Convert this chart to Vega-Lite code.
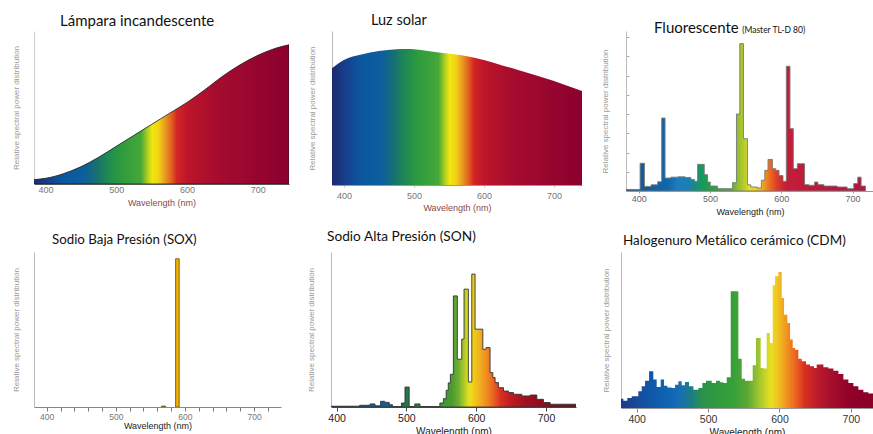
{
"$schema": "https://vega.github.io/schema/vega-lite/v6.json",
"background": "white",
"padding": {"left": 12, "top": 12, "right": 0, "bottom": 0},
"autosize": {"type": "pad"},
"config": {
  "view": {"stroke": null},
  "axis": {"grid": false, "labelFont": "Liberation Sans", "titleFont": "Liberation Sans", "titleFontWeight": "normal"},
  "title": {"font": "Lato", "fontWeight": "normal", "color": "#111", "anchor": "start", "frame": "group"}
},
"datasets": {
  "incandescent": [
    {"w": 381, "v": 0.027}, {"w": 400, "v": 0.036}, {"w": 425, "v": 0.065}, {"w": 450, "v": 0.11},
    {"w": 475, "v": 0.17}, {"w": 500, "v": 0.24}, {"w": 525, "v": 0.31}, {"w": 550, "v": 0.38},
    {"w": 575, "v": 0.45}, {"w": 600, "v": 0.52}, {"w": 625, "v": 0.6}, {"w": 650, "v": 0.686},
    {"w": 675, "v": 0.76}, {"w": 700, "v": 0.82}, {"w": 725, "v": 0.865}, {"w": 744, "v": 0.887}
  ],
  "solar": [
    {"w": 383, "v": 0.77}, {"w": 400, "v": 0.824}, {"w": 425, "v": 0.86}, {"w": 450, "v": 0.883},
    {"w": 475, "v": 0.895}, {"w": 490, "v": 0.897}, {"w": 500, "v": 0.895}, {"w": 520, "v": 0.883},
    {"w": 545, "v": 0.868}, {"w": 570, "v": 0.853}, {"w": 600, "v": 0.824}, {"w": 625, "v": 0.79},
    {"w": 650, "v": 0.757}, {"w": 700, "v": 0.686}, {"w": 740, "v": 0.62}
  ],
  "fluorescent": [
    {"w": 382, "v": 0.01}, {"w": 401.8, "v": 0.18}, {"w": 407.9, "v": 0.03}, {"w": 417.2, "v": 0.04},
    {"w": 426.5, "v": 0.06}, {"w": 432.1, "v": 0.474}, {"w": 436.8, "v": 0.084}, {"w": 445, "v": 0.09},
    {"w": 455, "v": 0.092}, {"w": 465, "v": 0.088}, {"w": 473, "v": 0.075}, {"w": 478, "v": 0.063},
    {"w": 482.5, "v": 0.173}, {"w": 491.8, "v": 0.106}, {"w": 496.4, "v": 0.058}, {"w": 500.2, "v": 0.032},
    {"w": 510.4, "v": 0.015}, {"w": 531.4, "v": 0.054}, {"w": 537, "v": 0.5}, {"w": 541.7, "v": 0.957},
    {"w": 546.8, "v": 0.34}, {"w": 552.4, "v": 0.04}, {"w": 557.1, "v": 0.026}, {"w": 566.4, "v": 0.02},
    {"w": 572, "v": 0.07}, {"w": 576.7, "v": 0.134}, {"w": 581.3, "v": 0.205}, {"w": 587.4, "v": 0.145},
    {"w": 592, "v": 0.134}, {"w": 596.7, "v": 0.1}, {"w": 602.3, "v": 0.063}, {"w": 607, "v": 0.81},
    {"w": 612.1, "v": 0.405}, {"w": 616.8, "v": 0.145}, {"w": 622.4, "v": 0.177}, {"w": 632.6, "v": 0.041},
    {"w": 638.7, "v": 0.037}, {"w": 646.6, "v": 0.058}, {"w": 651.3, "v": 0.041}, {"w": 659.7, "v": 0.032},
    {"w": 678.3, "v": 0.026}, {"w": 692.3, "v": 0.015}, {"w": 701.6, "v": 0.048}, {"w": 707.2, "v": 0.09},
    {"w": 711.9, "v": 0.032}, {"w": 718, "v": 0.032}
  ],
  "sox": [
    {"w0": 566, "w1": 572, "v": 0.006},
    {"w0": 586.5, "w1": 591.7, "v": 0.949}
  ],
  "son": [
    {"w": 392, "v": 0.005}, {"w": 433, "v": 0.011}, {"w": 448, "v": 0.02}, {"w": 455, "v": 0.008},
    {"w": 463, "v": 0.037}, {"w": 469, "v": 0.03}, {"w": 475.5, "v": 0.015}, {"w": 480, "v": 0.003},
    {"w": 493, "v": 0.026}, {"w": 498, "v": 0.13}, {"w": 504, "v": 0.003}, {"w": 512, "v": 0.02},
    {"w": 519.5, "v": 0.003}, {"w": 548, "v": 0.026}, {"w": 553, "v": 0.054}, {"w": 557, "v": 0.109},
    {"w": 560, "v": 0.157}, {"w": 563, "v": 0.213}, {"w": 567.3, "v": 0.724}, {"w": 573, "v": 0.311},
    {"w": 579.3, "v": 0.442}, {"w": 582.6, "v": 0.768}, {"w": 588.8, "v": 0.163}, {"w": 593.7, "v": 0.866},
    {"w": 598.4, "v": 0.507}, {"w": 609.5, "v": 0.376}, {"w": 614.2, "v": 0.387}, {"w": 619.9, "v": 0.224},
    {"w": 623.8, "v": 0.192}, {"w": 627.1, "v": 0.159}, {"w": 631.9, "v": 0.126}, {"w": 639.1, "v": 0.104},
    {"w": 646.3, "v": 0.094}, {"w": 653.4, "v": 0.083}, {"w": 665.4, "v": 0.072}, {"w": 677.3, "v": 0.078},
    {"w": 686.9, "v": 0.05}, {"w": 696.4, "v": 0.029}, {"w": 706, "v": 0.018}, {"w": 743, "v": 0.018}
  ],
  "cdm": [
    {"w": 378, "v": 0.06}, {"w": 381.3, "v": 0.047}, {"w": 386.9, "v": 0.065}, {"w": 393, "v": 0.075},
    {"w": 402.3, "v": 0.108}, {"w": 407, "v": 0.14}, {"w": 411.7, "v": 0.176}, {"w": 417.3, "v": 0.237},
    {"w": 423.3, "v": 0.183}, {"w": 428, "v": 0.135}, {"w": 433.6, "v": 0.183}, {"w": 438.3, "v": 0.144},
    {"w": 443, "v": 0.133}, {"w": 449, "v": 0.129}, {"w": 453.7, "v": 0.15}, {"w": 458.4, "v": 0.172},
    {"w": 463, "v": 0.146}, {"w": 467.7, "v": 0.168}, {"w": 473.3, "v": 0.14}, {"w": 479.4, "v": 0.118},
    {"w": 486.4, "v": 0.129}, {"w": 492, "v": 0.161}, {"w": 497.1, "v": 0.176}, {"w": 505.1, "v": 0.161},
    {"w": 511.1, "v": 0.176}, {"w": 516.7, "v": 0.166}, {"w": 521.4, "v": 0.161}, {"w": 526.1, "v": 0.198},
    {"w": 531.7, "v": 0.753}, {"w": 542.4, "v": 0.318}, {"w": 547.1, "v": 0.189}, {"w": 551.7, "v": 0.176},
    {"w": 562.5, "v": 0.275}, {"w": 567.2, "v": 0.452}, {"w": 573.7, "v": 0.258}, {"w": 577.4, "v": 0.254},
    {"w": 582.1, "v": 0.484}, {"w": 586.8, "v": 0.419}, {"w": 590.5, "v": 0.792}, {"w": 593.8, "v": 0.849},
    {"w": 598.4, "v": 0.877}, {"w": 603.1, "v": 0.71}, {"w": 606.4, "v": 0.602}, {"w": 611, "v": 0.548},
    {"w": 614.8, "v": 0.441}, {"w": 618.5, "v": 0.387}, {"w": 621.8, "v": 0.376}, {"w": 626.4, "v": 0.318},
    {"w": 631.1, "v": 0.301}, {"w": 637.2, "v": 0.28}, {"w": 642.8, "v": 0.269}, {"w": 648.4, "v": 0.258},
    {"w": 652.1, "v": 0.28}, {"w": 661.5, "v": 0.262}, {"w": 668.5, "v": 0.254}, {"w": 675.5, "v": 0.241},
    {"w": 682.5, "v": 0.219}, {"w": 689.5, "v": 0.183}, {"w": 696.5, "v": 0.161}, {"w": 703.5, "v": 0.14},
    {"w": 710.5, "v": 0.118}, {"w": 717.5, "v": 0.101}, {"w": 724.5, "v": 0.093}, {"w": 731.5, "v": 0.093}
  ],
  "note": [{"label": "(Master TL-D 80)"}]
},
"spacing": 14,
"align": "none",
"vconcat": [
  {
    "spacing": 19,
    "align": "none",
    "hconcat": [
      {
        "width": 255, "height": 153,
        "title": {"text": "Lámpara incandescente", "fontSize": 15, "dx": 26, "offset": 2},
        "data": {"name": "incandescent"},
        "mark": {"type": "area", "interpolate": "monotone", "clip": true, "stroke": "#1a1a1a", "strokeWidth": 0.8,
          "fill": {"gradient": "linear", "x1": 0, "x2": 1, "y1": 0, "y2": 0, "stops": [
            {"offset": 0, "color": "#1c2a6e"}, {"offset": 0.0523, "color": "#173d8a"}, {"offset": 0.1212, "color": "#0b57a0"},
            {"offset": 0.2039, "color": "#0d5f9c"}, {"offset": 0.2507, "color": "#17706f"}, {"offset": 0.2948, "color": "#1f8a52"},
            {"offset": 0.3416, "color": "#2c9a3e"}, {"offset": 0.4242, "color": "#45a838"}, {"offset": 0.4518, "color": "#b8d21e"},
            {"offset": 0.4683, "color": "#f0e60f"}, {"offset": 0.4931, "color": "#f0d214"}, {"offset": 0.5152, "color": "#eaa020"},
            {"offset": 0.5427, "color": "#e06020"}, {"offset": 0.5647, "color": "#d42424"}, {"offset": 0.6033, "color": "#bd162a"},
            {"offset": 0.7135, "color": "#a60c2e"}, {"offset": 1, "color": "#8b002e"}]}},
        "encoding": {
          "x": {"field": "w", "type": "quantitative", "scale": {"domain": [383.8, 744], "nice": false, "zero": false},
            "axis": {"values": [400, 500, 600, 700], "title": "Wavelength (nm)", "titleColor": "#8a4a48", "titleFontSize": 9, "titlePadding": 4,
              "labelFontSize": 9, "labelColor": "#777", "labelPadding": 1, "tickSize": 0, "domainColor": "#555"}},
          "y": {"field": "v", "type": "quantitative", "scale": {"domain": [0, 0.975], "nice": false},
            "axis": {"title": "Relative spectral power distribution", "labels": false, "ticks": false, "domainColor": "#ccc",
              "titleColor": "#999", "titleFontSize": 8, "titlePadding": 14}}
        }
      },
      {
        "width": 250, "height": 154,
        "title": {"text": "Luz solar", "fontSize": 14.5, "dx": 39, "offset": 3},
        "data": {"name": "solar"},
        "mark": {"type": "area", "interpolate": "monotone", "clip": true,
          "fill": {"gradient": "linear", "x1": 0, "x2": 1, "y1": 0, "y2": 0, "stops": [
            {"offset": 0, "color": "#1c2a6e"}, {"offset": 0.0476, "color": "#173d8a"}, {"offset": 0.1176, "color": "#0b57a0"},
            {"offset": 0.2017, "color": "#0d5f9c"}, {"offset": 0.2493, "color": "#17706f"}, {"offset": 0.2941, "color": "#1f8a52"},
            {"offset": 0.3417, "color": "#2c9a3e"}, {"offset": 0.4258, "color": "#45a838"}, {"offset": 0.4538, "color": "#b8d21e"},
            {"offset": 0.4706, "color": "#f0e60f"}, {"offset": 0.4958, "color": "#f0d214"}, {"offset": 0.5182, "color": "#eaa020"},
            {"offset": 0.5462, "color": "#e06020"}, {"offset": 0.5686, "color": "#d42424"}, {"offset": 0.6078, "color": "#bd162a"},
            {"offset": 0.7199, "color": "#a60c2e"}, {"offset": 1, "color": "#8b002e"}]}},
        "encoding": {
          "x": {"field": "w", "type": "quantitative", "scale": {"domain": [383, 740], "nice": false, "zero": false},
            "axis": {"values": [400, 500, 600, 700], "title": "Wavelength (nm)", "titleColor": "#8a4a48", "titleFontSize": 9, "titlePadding": 3,
              "labelFontSize": 9, "labelColor": "#777", "labelPadding": 4, "tickSize": 2, "tickColor": "#bbb", "domainColor": "#999"}},
          "y": {"field": "v", "type": "quantitative", "scale": {"domain": [0, 1.015], "nice": false},
            "axis": {"title": "Relative spectral power distribution", "labels": false, "ticks": false, "domainColor": "#bbb",
              "titleColor": "#999", "titleFontSize": 8, "titlePadding": 16}}
        }
      },
      {
        "width": 248, "height": 160,
        "title": {"text": "Fluorescente", "fontSize": 15, "dx": 28, "offset": -10},
        "encoding": {
          "x": {"type": "quantitative", "scale": {"domain": [382, 730], "nice": false, "zero": false},
            "axis": {"values": [400, 500, 600, 700], "title": "Wavelength (nm)", "titleColor": "#222", "titleFontSize": 9, "titlePadding": 4,
              "labelFontSize": 9, "labelColor": "#666", "labelPadding": 1, "tickSize": 2, "tickColor": "#999", "domainColor": "#999"}},
          "y": {"type": "quantitative", "scale": {"domain": [0, 1.039], "nice": false},
            "axis": {"title": "Relative spectral power distribution", "labels": false, "tickSize": -3, "tickColor": "#aaa",
              "values": [0.125, 0.25, 0.375, 0.5, 0.625, 0.75, 0.875, 1], "domainColor": "#bbb",
              "titleColor": "#999", "titleFontSize": 8, "titlePadding": 16}}
        },
        "layer": [
          {
            "data": {"name": "fluorescent"},
            "mark": {"type": "area", "interpolate": "step-after", "clip": true, "stroke": "#777", "strokeWidth": 0.9,
              "fill": {"gradient": "linear", "x1": 0, "x2": 1, "y1": 0, "y2": 0, "stops": [
                {"offset": 0, "color": "#1f3f78"}, {"offset": 0.0536, "color": "#0f5a9c"}, {"offset": 0.1726, "color": "#1166ab"},
                {"offset": 0.2173, "color": "#1f7cc0"}, {"offset": 0.2619, "color": "#1a80b0"}, {"offset": 0.2917, "color": "#15907a"},
                {"offset": 0.3214, "color": "#189a58"}, {"offset": 0.3661, "color": "#2ea042"}, {"offset": 0.4405, "color": "#58ae38"},
                {"offset": 0.4702, "color": "#98c030"}, {"offset": 0.494, "color": "#b8cc28"}, {"offset": 0.5149, "color": "#e6e020"},
                {"offset": 0.5446, "color": "#f2c81c"}, {"offset": 0.5744, "color": "#f0a020"}, {"offset": 0.5982, "color": "#ec7020"},
                {"offset": 0.625, "color": "#e04428"}, {"offset": 0.6488, "color": "#d02c30"}, {"offset": 0.6696, "color": "#c41e38"},
                {"offset": 0.7679, "color": "#bc1a3c"}, {"offset": 1, "color": "#b01640"}]}},
            "encoding": {"x": {"field": "w"}, "y": {"field": "v"}}
          },
          {
            "data": {"name": "note"},
            "mark": {"type": "text", "align": "left", "baseline": "alphabetic", "font": "Lato", "fontSize": 8.5, "color": "#111"},
            "encoding": {"x": {"datum": 545}, "y": {"datum": 1.028}, "text": {"field": "label"}}
          }
        ]
      }
    ]
  },
  {
    "spacing": 26,
    "align": "none",
    "hconcat": [
      {
        "width": 247, "height": 155,
        "title": {"text": "Sodio Baja Presión (SOX)", "fontSize": 13.3, "dx": 18, "offset": 6},
        "data": {"name": "sox"},
        "mark": {"type": "rect", "clip": true, "stroke": "#6a4a10", "strokeWidth": 0.8},
        "encoding": {
          "x": {"field": "w0", "type": "quantitative", "scale": {"domain": [381.6, 739], "nice": false, "zero": false},
            "axis": {"values": [400, 420, 440, 460, 480, 500, 520, 540, 560, 580, 600, 620, 640, 660, 680, 700, 720],
              "labelExpr": "datum.value % 100 === 0 ? datum.label : ''",
              "title": "Wavelength (nm)", "titleColor": "#222", "titleFontSize": 9, "titlePadding": 1,
              "labelFontSize": 8.5, "labelColor": "#777", "labelPadding": 1, "tickSize": 4, "tickColor": "#777", "domainColor": "#888"}},
          "x2": {"field": "w1"},
          "y": {"field": "v", "type": "quantitative", "scale": {"domain": [0, 0.992], "nice": false},
            "axis": {"title": "Relative spectral power distribution", "labels": false, "ticks": false, "domainColor": "#bbb",
              "titleColor": "#999", "titleFontSize": 8, "titlePadding": 14}},
          "y2": {"datum": 0},
          "color": {"field": "w0", "type": "quantitative", "scale": {"domain": [566, 586.5], "range": ["#8aa020", "#f0b000"]}, "legend": null}
        }
      },
      {
        "width": 245, "height": 155,
        "title": {"text": "Sodio Alta Presión (SON)", "fontSize": 13.7, "dx": -4, "offset": 8},
        "data": {"name": "son"},
        "mark": {"type": "area", "interpolate": "step-after", "clip": true, "stroke": "#333", "strokeWidth": 0.9,
          "fill": {"gradient": "linear", "x1": 0, "x2": 1, "y1": 0, "y2": 0, "stops": [
            {"offset": 0, "color": "#1a3e80"}, {"offset": 0.1652, "color": "#1a5a96"}, {"offset": 0.2222, "color": "#1a5a8a"},
            {"offset": 0.2792, "color": "#1a6a60"}, {"offset": 0.3077, "color": "#1f7a48"}, {"offset": 0.3647, "color": "#2a8a3a"},
            {"offset": 0.4501, "color": "#3a9a30"}, {"offset": 0.4929, "color": "#4a9a30"}, {"offset": 0.5214, "color": "#70b030"},
            {"offset": 0.5413, "color": "#a8c828"}, {"offset": 0.5641, "color": "#e8e020"}, {"offset": 0.5755, "color": "#f0d418"},
            {"offset": 0.6068, "color": "#f0b020"}, {"offset": 0.6353, "color": "#f08c20"}, {"offset": 0.6638, "color": "#e86020"},
            {"offset": 0.6923, "color": "#d83020"}, {"offset": 0.735, "color": "#c01a20"}, {"offset": 0.792, "color": "#a01020"},
            {"offset": 0.8775, "color": "#8a0c1c"}, {"offset": 1, "color": "#800818"}]}},
        "encoding": {
          "x": {"field": "w", "type": "quantitative", "scale": {"domain": [392, 743], "nice": false, "zero": false},
            "axis": {"values": [400, 500, 600, 700], "title": "Wavelength (nm)", "titleColor": "#222", "titleFontSize": 10, "titlePadding": 3,
              "labelFontSize": 10.5, "labelColor": "#222", "labelPadding": 2, "tickSize": 4, "tickColor": "#444", "domainColor": "#444"}},
          "y": {"field": "v", "type": "quantitative", "scale": {"domain": [0, 1.01], "nice": false},
            "axis": {"title": "Relative spectral power distribution", "labels": false, "ticks": false, "domainColor": "#bbb",
              "titleColor": "#999", "titleFontSize": 8, "titlePadding": 16}}
        }
      },
      {
        "width": 252, "height": 156,
        "title": {"text": "Halogenuro Metálico cerámico (CDM)", "fontSize": 13.5, "dx": 2, "offset": 5},
        "data": {"name": "cdm"},
        "mark": {"type": "area", "interpolate": "step-after", "clip": true,
          "fill": {"gradient": "linear", "x1": 0, "x2": 1, "y1": 0, "y2": 0, "stops": [
            {"offset": 0, "color": "#1a3a8a"}, {"offset": 0.0622, "color": "#1a4a9a"}, {"offset": 0.1188, "color": "#1058a8"},
            {"offset": 0.2037, "color": "#1068b8"}, {"offset": 0.2461, "color": "#1a72a8"}, {"offset": 0.2829, "color": "#1a8080"},
            {"offset": 0.3168, "color": "#2a9050"}, {"offset": 0.3734, "color": "#2e9a3e"}, {"offset": 0.4441, "color": "#36a038"},
            {"offset": 0.5007, "color": "#5aa834"}, {"offset": 0.5375, "color": "#90c030"}, {"offset": 0.5714, "color": "#c8d428"},
            {"offset": 0.5941, "color": "#e8e020"}, {"offset": 0.6167, "color": "#f0c820"}, {"offset": 0.6421, "color": "#f0a820"},
            {"offset": 0.6704, "color": "#f08020"}, {"offset": 0.6987, "color": "#e85a20"}, {"offset": 0.727, "color": "#d83020"},
            {"offset": 0.7694, "color": "#c01e2a"}, {"offset": 0.826, "color": "#a8102c"}, {"offset": 0.9109, "color": "#900028"},
            {"offset": 1, "color": "#880028"}]}},
        "encoding": {
          "x": {"field": "w", "type": "quantitative", "scale": {"domain": [378, 731], "nice": false, "zero": false},
            "axis": {"values": [400, 500, 600, 700], "title": "Wavelength (nm)", "titleColor": "#222", "titleFontSize": 10, "titlePadding": 3,
              "labelFontSize": 10.5, "labelColor": "#333", "labelPadding": 2, "tickSize": 4, "tickColor": "#888", "domainColor": "#999"}},
          "y": {"field": "v", "type": "quantitative", "scale": {"domain": [0, 1.006], "nice": false},
            "axis": {"title": "Relative spectral power distribution", "labels": false, "ticks": false, "domainColor": "#bbb",
              "titleColor": "#999", "titleFontSize": 8, "titlePadding": 11}}
        }
      }
    ]
  }
]
}
